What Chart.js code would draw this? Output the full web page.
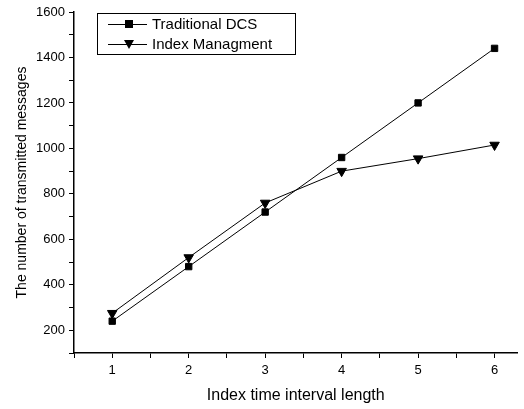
<!DOCTYPE html>
<html>
<head>
<meta charset="utf-8">
<script src="https://cdn.jsdelivr.net/npm/chart.js@4"></script>
<style>
  html, body { margin: 0; padding: 0; background: #fff; }
  #wrap { width: 524px; height: 409px; position: relative; }
</style>
</head>
<body>
<div id="wrap"><canvas id="msgChart"></canvas></div>
<script>
// ======== data ========
const intervals = [1, 2, 3, 4, 5, 6];
const traditionalDCS = [240, 480, 720, 960, 1200, 1440];
const indexManagment = [275, 520, 760, 900, 955, 1015];
const seriesNames = ['Traditional DCS', 'Index Managment'];

const FONT = 'Liberation Sans, Arial, sans-serif';

// legend drawn like the original: line - marker - line, inside a box
const boxLegend = {
    id: 'boxLegend',
    afterDraw(chart) {
        const c = chart.ctx;
        c.save();
        c.strokeStyle = '#000';
        c.lineWidth = 1;
        c.strokeRect(97.5, 13.5, 198, 41);
        c.font = '15px ' + FONT;
        c.textBaseline = 'middle';
        c.fillStyle = '#000';
        const rows = [24, 44];
        chart.data.datasets.forEach((ds, i) => {
            const y = rows[i];
            c.beginPath();
            c.moveTo(108, y + 0.5);
            c.lineTo(147, y + 0.5);
            c.stroke();
            c.beginPath();
            if (ds.pointStyle === 'rect') {
                c.rect(125, y - 4, 8, 8);
            } else {
                c.moveTo(124, y - 4);
                c.lineTo(134, y - 4);
                c.lineTo(129, y + 5);
                c.closePath();
            }
            c.fill();
            c.fillText(ds.label, 152, y + 1);
        });
        c.restore();
    }
};

const ctx = document.getElementById('msgChart').getContext('2d');
new Chart(ctx, {
    type: 'line',
    data: {
        datasets: [{
            label: seriesNames[0],
            data: intervals.map((x, i) => ({ x: x, y: traditionalDCS[i] })),
            borderColor: '#000',
            backgroundColor: '#000',
            borderWidth: 1,
            pointStyle: 'rect',
            pointRadius: 4.5,
            tension: 0
        }, {
            label: seriesNames[1],
            data: intervals.map((x, i) => ({ x: x, y: indexManagment[i] })),
            borderColor: '#000',
            backgroundColor: '#000',
            borderWidth: 1,
            pointStyle: 'triangle',
            pointRotation: 180,
            pointRadius: 5.5,
            tension: 0
        }]
    },
    options: {
        responsive: true,
        maintainAspectRatio: false,
        animation: false,
        layout: { padding: { top: 12, right: 0, left: 0, bottom: 0 } },
        scales: {
            x: {
                type: 'linear',
                min: 0.5,
                max: 6.3,
                border: { display: true, color: '#000', width: 1.5 },
                grid: { drawOnChartArea: false, drawTicks: true, tickLength: 5, color: '#000' },
                ticks: {
                    stepSize: 0.5,
                    includeBounds: false,
                    autoSkip: false,
                    maxRotation: 0,
                    color: '#000',
                    padding: 5,
                    font: { family: FONT, size: 13 },
                    callback: v => Number.isInteger(v) ? String(v) : ''
                },
                title: {
                    display: true,
                    text: 'Index time interval length',
                    color: '#000',
                    font: { family: FONT, size: 16 },
                    padding: { top: 0, bottom: 4 }
                },
                afterFit: scale => { scale.height = 56; }
            },
            y: {
                min: 100,
                max: 1600,
                border: { display: true, color: '#000', width: 1.5 },
                grid: { drawOnChartArea: false, drawTicks: true, tickLength: 5, color: '#000' },
                ticks: {
                    stepSize: 100,
                    autoSkip: false,
                    color: '#000',
                    padding: 4,
                    font: { family: FONT, size: 13 },
                    callback: v => (v % 200 === 0) ? String(v) : ''
                },
                title: {
                    display: true,
                    text: 'The number of transmitted messages',
                    color: '#000',
                    font: { family: FONT, size: 14 },
                    padding: { top: 14, bottom: 4 }
                },
                afterFit: scale => { scale.width = 74; }
            }
        },
        plugins: {
            legend: { display: false },
            tooltip: { enabled: false }
        }
    },
    plugins: [boxLegend]
});
</script>
</body>
</html>
